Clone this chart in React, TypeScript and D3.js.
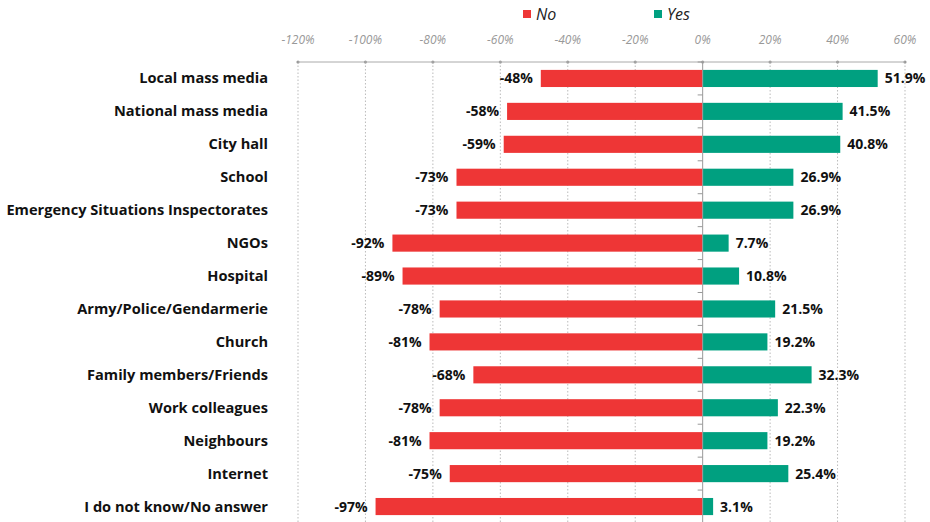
import React from "react";
import * as d3 from "d3";

const categories = [
  "Local mass media",
  "National mass media",
  "City hall",
  "School",
  "Emergency Situations Inspectorates",
  "NGOs",
  "Hospital",
  "Army/Police/Gendarmerie",
  "Church",
  "Family members/Friends",
  "Work colleagues",
  "Neighbours",
  "Internet",
  "I do not know/No answer",
];
const noValues = [-48, -58, -59, -73, -73, -92, -89, -78, -81, -68, -78, -81, -75, -97];
const yesValues = [51.9, 41.5, 40.8, 26.9, 26.9, 7.7, 10.8, 21.5, 19.2, 32.3, 22.3, 19.2, 25.4, 3.1];
const ticks = [-120, -100, -80, -60, -40, -20, 0, 20, 40, 60];
const seriesNames = ["No", "Yes"];
const colors = ["#EE3636", "#00A080"];

export default function App() {
  const W = 930, H = 522;
  const x = d3.scaleLinear().domain([-120, 60]).range([298, 905]);
  const y = d3.scaleBand<number>().domain(d3.range(categories.length)).range([62, 523]).paddingInner(0.48).paddingOuter(0.24);
  const font = "'Open Sans', sans-serif";
  const axisY = 62;
  return (
    <svg width={W} height={H} style={{ position: "absolute", left: 0, top: 0, background: "#fff" }}>
      {seriesNames.map((n, i) => {
        const lx = i === 0 ? 523 : 654;
        return (
          <g key={n}>
            <rect x={lx} y={10} width={8} height={8} fill={colors[i]} />
            <text x={lx + 13} y={20} fontFamily={font} fontStyle="italic" fontSize={16} fill="#222">{n}</text>
          </g>
        );
      })}
      {ticks.map((t) => (
        <g key={t}>
          <text x={x(t)} y={44} textAnchor="middle" fontFamily={font} fontStyle="italic" fontSize={12} fill="#999">{t}%</text>
          {t !== 0 && (
            <line x1={x(t)} x2={x(t)} y1={axisY} y2={H} stroke="#bbb" strokeDasharray="1.5,2" />
          )}
          <circle cx={x(t)} cy={axisY} r={1.6} fill="#999" />
        </g>
      ))}
      <line x1={x(-120)} x2={x(60)} y1={axisY} y2={axisY} stroke="#aaa" strokeWidth={1} />
      {categories.map((c, i) => {
        const by = y(i)!;
        const bh = y.bandwidth();
        const cy = by + bh / 2;
        return (
          <g key={c}>
            <text x={268} y={cy + 5} textAnchor="end" fontFamily={font} fontWeight="bold" fontSize={14.6} fill="#111">{c}</text>
            <rect x={x(noValues[i])} y={by} width={x(0) - x(noValues[i])} height={bh} fill={colors[0]} />
            <rect x={x(0)} y={by} width={x(yesValues[i]) - x(0)} height={bh} fill={colors[1]} />
            <text x={x(noValues[i]) - 8} y={cy + 5} textAnchor="end" fontFamily={font} fontWeight="bold" fontSize={14} fill="#111">{noValues[i]}%</text>
            <text x={x(yesValues[i]) + 7} y={cy + 5} textAnchor="start" fontFamily={font} fontWeight="bold" fontSize={14} fill="#111">{yesValues[i].toFixed(1)}%</text>
          </g>
        );
      })}
      <line x1={x(0)} x2={x(0)} y1={axisY} y2={H} stroke="#999" />
      {d3.range(categories.length + 1).map((k) => {
        const ty = y(0)! - (y.step() - y.bandwidth()) / 2 + y.step() * k;
        return <line key={k} x1={x(0) - 5} x2={x(0)} y1={ty} y2={ty} stroke="#999" />;
      })}
    </svg>
  );
}
